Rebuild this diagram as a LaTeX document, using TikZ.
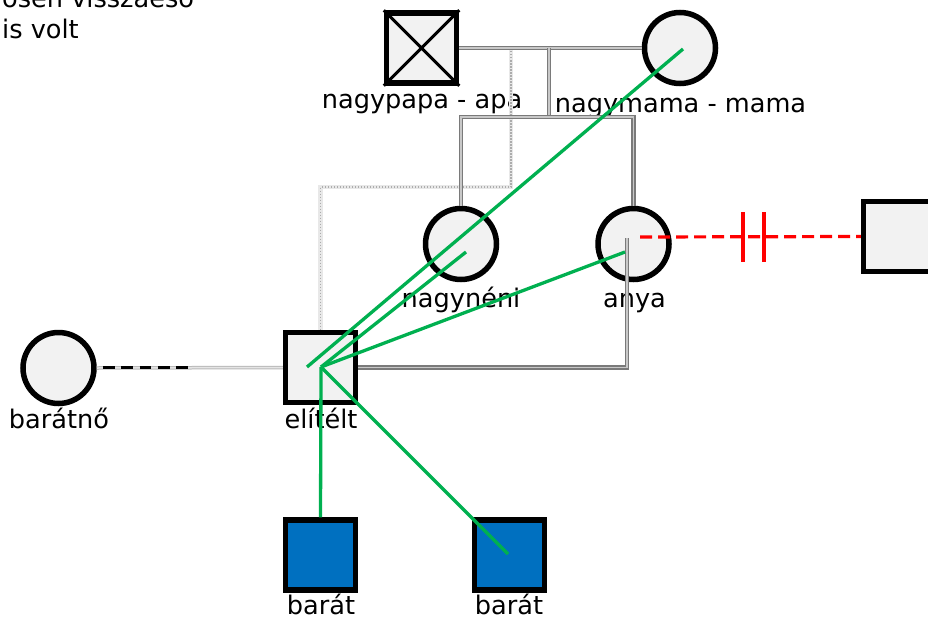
\documentclass[tikz,border=0pt]{standalone}
\usepackage{fontspec}
\setmainfont{DejaVu Sans}
\usetikzlibrary{calc}
\definecolor{nodefill}{HTML}{F2F2F2}
\definecolor{friendblue}{HTML}{0070C0}
\definecolor{tiegreen}{HTML}{00B050}
\definecolor{relgray}{HTML}{7A7A7A}
\definecolor{relmid}{HTML}{C8C8C8}
\begin{document}
\begin{tikzpicture}[x=1pt,y=-1pt,
  person/.style={draw=black,line width=5.5pt,fill=nodefill,inner sep=0pt},
  male/.style={person,rectangle,minimum size=70pt},
  female/.style={person,circle,minimum size=71pt},
  friend/.style={male,fill=friendblue},
  lbl/.style={anchor=base,inner sep=0pt,font=\fontsize{25.6}{30}\selectfont},
  note/.style={anchor=base west,inner sep=0pt,font=\fontsize{25.6}{30}\selectfont},
  rel/.style={draw=relgray,double=relmid,line width=1.4pt,double distance=1.6pt},
  lightrel/.style={draw=gray!55,double=gray!20,line width=1pt,double distance=1.5pt},
  dotrel/.style={draw=gray!65,line width=1.5pt,dash pattern=on 1.5pt off 1.5pt},
  dotshade/.style={draw=gray!18,line width=4.5pt},
  tie/.style={draw=tiegreen,line width=3.3pt},
  cutoff/.style={draw=red,line width=3.2pt,dash pattern=on 12pt off 6pt},
  cutbar/.style={draw=red,line width=4pt},
  casual/.style={draw=black,line width=3.3pt,dash pattern=on 11.7pt off 6.6pt}
]
\useasboundingbox (0,0) rectangle (928,618);
\clip (0,0) rectangle (928,618);

% persons
\node[male] (papa) at (421.5,48) {};
\draw[line width=3pt] (papa.north west) -- (papa.south east) (papa.north east) -- (papa.south west);
\node[female] (mama) at (680,48) {};
\node[female] (neni) at (461,244) {};
\node[female] (anya) at (633.5,244) {};
\node[male] (ex) at (898.5,236.5) {};
\node[male] (elitelt) at (320.5,367.5) {};
\node[female] (gf) at (58.5,368) {};
\node[friend] (barat1) at (320.5,555) {};
\node[friend] (barat2) at (509.5,555) {};

% labels
\node[lbl] (papaL) at (422,108) {nagypapa - apa};
\node[lbl] (mamaL) at (680.5,112) {nagymama - mama};
\node[lbl] (neniL) at (461,307) {nagynéni};
\node[lbl] (anyaL) at (634.5,307) {anya};
\node[lbl] (gfL) at (59,428) {barátnő};
\node[lbl] (eliteltL) at (321,428) {elítélt};
\node[lbl] (barat1L) at (321,614) {barát};
\node[lbl] (barat2L) at (509,614) {barát};
\node[note] (note1) at (2,8) {ösen visszaeső};
\node[note] (note2) at (2,39) {is volt};

% helper coordinates
\coordinate (kidA) at (549,48);
\coordinate (sib) at (549,117);
\coordinate (dotA) at (511,48);
\coordinate (dotB) at (511,187);
\coordinate (anyaIn) at (627,238);
\coordinate (dash1) at (103,367.5);
\coordinate (dash2) at (188,367.5);
\coordinate (anyaR) at (640,237);
\coordinate (bar1) at (743,237);
\coordinate (bar2) at (764,237);

% family connectors
\draw[dotshade] (dotA) -- (dotB) -| (elitelt.north);
\draw[dotrel] (dotA) -- (dotB) -| (elitelt.north);
\draw[rel] (papa.east) -- (mama.west);
\draw[rel] (kidA) -- (sib);
\draw[rel] (neni.north) |- (sib) -| (anya.north);
\draw[rel] (anyaIn) |- (elitelt.east);
\draw[lightrel] (gf.east) -- (elitelt.west);
\draw[casual] (dash1) -- (dash2);

% cut-off relation
\draw[cutoff] (anyaR) -- (ex.west);
\draw[cutbar] ($(bar1)+(0,-25)$) -- ($(bar1)+(0,25)$);
\draw[cutbar] ($(bar2)+(0,-25)$) -- ($(bar2)+(0,25)$);

% emotional ties
\coordinate (hub) at (321,367);
\coordinate (hub2) at (307,367);
\coordinate (gmama) at (683,49);
\coordinate (gneni) at (466,252);
\coordinate (ganya) at (625,252);
\coordinate (gbarat2) at (508,554);
\draw[tie] (hub2) -- (gmama);
\draw[tie] (hub) -- (gneni);
\draw[tie] (hub) -- (ganya);
\draw[tie] (hub) -- (barat1.north);
\draw[tie] (hub) -- (gbarat2);
\end{tikzpicture}
\end{document}
